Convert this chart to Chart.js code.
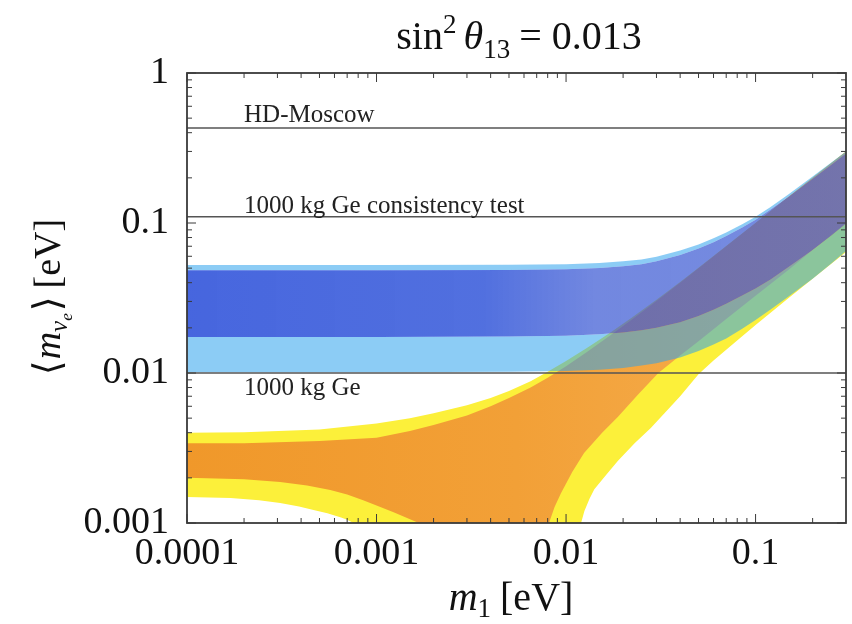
<!DOCTYPE html>
<html>
<head>
<meta charset="utf-8">
<script src="https://cdn.jsdelivr.net/npm/chart.js@4.4.0/dist/chart.umd.min.js"></script>
<style>
  html, body { margin: 0; padding: 0; background: #fff; }
  #grafico { display: block; }
</style>
</head>
<body>
<canvas id="grafico" width="852" height="624"></canvas>
<script>
// Rótulos dos eixos (eV)
const rotulosX = [0.0001, 0.001, 0.01, 0.1];
const rotulosY = [0.001, 0.01, 0.1, 1];

// Limites experimentais (linhas horizontais) e seus nomes
const limites = [0.43, 0.11, 0.01];
const nomesLimites = ['HD-Moscow', '1000 kg Ge consistency test', '1000 kg Ge'];

// Hierarquia invertida: m1 e bordas das faixas (externa = azul claro, interna = azul escuro)
const m1Inv     = [0.0001, 0.001, 0.005, 0.01, 0.015, 0.02, 0.025, 0.03, 0.04, 0.05, 0.06, 0.07, 0.085, 0.1, 0.12, 0.15, 0.2, 0.25, 0.3];
const invExtSup = [0.0525, 0.0525, 0.0526, 0.0531, 0.0541, 0.0555, 0.057, 0.0595, 0.0655, 0.072, 0.079, 0.0865, 0.098, 0.11, 0.128, 0.156, 0.204, 0.252, 0.30];
const invIntSup = [0.0485, 0.0485, 0.0486, 0.0491, 0.0501, 0.0515, 0.0531, 0.0555, 0.0613, 0.0677, 0.0745, 0.082, 0.0932, 0.105, 0.123, 0.15, 0.197, 0.244, 0.291];
const invIntInf = [0.0174, 0.0174, 0.0175, 0.0177, 0.0181, 0.0186, 0.0193, 0.0200, 0.0218, 0.024, 0.0264, 0.029, 0.0328, 0.0366, 0.042, 0.051, 0.066, 0.082, 0.099];
const invExtInf = [0.0101, 0.0101, 0.0102, 0.0103, 0.0105, 0.0108, 0.0112, 0.0116, 0.0127, 0.0140, 0.0155, 0.0170, 0.0197, 0.0226, 0.0265, 0.0325, 0.0425, 0.0535, 0.065];

// Hierarquia normal: bordas superiores (amarelo = externa, laranja = interna)
const m1NormSup  = [0.0001, 0.0002, 0.0005, 0.001, 0.0015, 0.002, 0.003, 0.004, 0.005, 0.0065, 0.008, 0.01, 0.013, 0.017, 0.022, 0.03, 0.04, 0.05, 0.07, 0.1, 0.15, 0.2, 0.3];
const normExtSup = [0.0040, 0.00403, 0.0042, 0.0046, 0.0050, 0.0054, 0.0061, 0.0068, 0.0076, 0.0088, 0.0102, 0.0120, 0.0148, 0.0185, 0.0232, 0.0308, 0.0405, 0.0503, 0.0702, 0.1, 0.15, 0.2, 0.3];
const normIntSup = [0.0034, 0.0034, 0.00352, 0.0037, 0.0041, 0.0045, 0.0052, 0.0060, 0.0068, 0.0080, 0.0093, 0.0111, 0.0139, 0.0177, 0.0225, 0.0302, 0.040, 0.050, 0.070, 0.1, 0.15, 0.2, 0.3];

// Bordas inferiores: caem abaixo de 0.001 na região de cancelamento
const m1NormIntInf = [0.0001, 0.0002, 0.00031, 0.00043, 0.00057, 0.0007, 0.00085, 0.001, 0.00123, 0.00145, 0.00167, 0.0022, 0.0073, 0.00813, 0.0087, 0.0094, 0.0108, 0.01245, 0.0155, 0.0188, 0.024, 0.0307, 0.04, 0.05, 0.07, 0.1, 0.15, 0.2, 0.3];
const normIntInf   = [0.0020, 0.00196, 0.00188, 0.00178, 0.00166, 0.00155, 0.00142, 0.00131, 0.00118, 0.00108, 0.001, 0.0005, 0.0006, 0.001, 0.00128, 0.00158, 0.0022, 0.00293, 0.0040, 0.0051, 0.0072, 0.0100, 0.0131, 0.0163, 0.0229, 0.0327, 0.049, 0.066, 0.1];
const m1NormExtInf = [0.0001, 0.00017, 0.00024, 0.00031, 0.00039, 0.000465, 0.00055, 0.00065, 0.0007, 0.000755, 0.0009, 0.011, 0.012, 0.0125, 0.0133, 0.0141, 0.0163, 0.0188, 0.023, 0.028, 0.034, 0.04, 0.05, 0.06, 0.07, 0.085, 0.1, 0.15, 0.2, 0.3];
const normExtInf   = [0.00149, 0.00147, 0.00142, 0.00136, 0.00129, 0.00122, 0.00116, 0.00109, 0.00105, 0.001, 0.0005, 0.0005, 0.001, 0.0012, 0.00145, 0.00168, 0.0021, 0.0026, 0.0034, 0.0043, 0.0056, 0.0070, 0.0098, 0.0121, 0.0143, 0.0176, 0.0209, 0.0318, 0.0425, 0.064];

const SERIF = '"Liberation Serif", "DejaVu Serif", serif';

/**
 * Monta o polígono de uma faixa: borda superior da esquerda p/ direita,
 * depois a inferior de volta.
 */
function faixa(m1Sup, sup, m1Inf, inf) {
  const pts = m1Sup.map((x, i) => ({ x, y: sup[i] }));
  for (let i = m1Inf.length - 1; i >= 0; i--) {
    pts.push({ x: m1Inf[i], y: inf[i] });
  }
  return pts;
}

// Gradiente horizontal na área do gráfico (as faixas escurecem à esquerda)
function gradiente(paradas, reserva) {
  return (c) => {
    const { ctx, chartArea } = c.chart;
    if (!chartArea) return reserva;
    const g = ctx.createLinearGradient(chartArea.left, 0, chartArea.right, 0);
    paradas.forEach(([pos, cor]) => g.addColorStop(pos, cor));
    return g;
  };
}

function datasetFaixa(pontos, cor, ordem) {
  return {
    data: pontos,
    showLine: true,
    fill: 'shape',
    backgroundColor: cor,
    borderWidth: 0,
    pointRadius: 0,
    order: ordem
  };
}

function datasetLimite(valor) {
  return {
    data: [{ x: 0.0001, y: valor }, { x: 0.3, y: valor }],
    showLine: true,
    fill: false,
    borderColor: '#555',
    borderWidth: 1.5,
    pointRadius: 0,
    order: 0
  };
}

// Desenha pedaços de texto com fontes e deslocamentos diferentes (sub/sobrescritos)
function desenharPartes(ctx, partes, x, y, centro) {
  let total = 0;
  partes.forEach(p => {
    ctx.font = p.f;
    p.w = ctx.measureText(p.t).width;
    total += p.w + (p.gap || 0);
  });
  let cx = centro ? x - total / 2 : x;
  partes.forEach(p => {
    ctx.font = p.f;
    ctx.fillText(p.t, cx, y + (p.dy || 0));
    cx += p.w + (p.gap || 0);
  });
}

// Moldura com marcas para dentro nos quatro lados
const molduraPlugin = {
  id: 'moldura',
  afterDatasetsDraw(chart) {
    const { ctx, chartArea: a, scales: { x, y } } = chart;
    ctx.save();
    ctx.strokeStyle = '#3a3a3a';
    ctx.lineWidth = 1;
    const traco = (x1, y1, x2, y2) => {
      ctx.beginPath(); ctx.moveTo(x1, y1); ctx.lineTo(x2, y2); ctx.stroke();
    };
    for (let e = -4; e <= -1; e++) {
      for (let k = 1; k <= 9; k++) {
        const v = k * Math.pow(10, e);
        if (v > 0.3) break;
        const px = x.getPixelForValue(v);
        const len = k === 1 ? 9 : 5;
        traco(px, a.bottom, px, a.bottom - len);
        traco(px, a.top, px, a.top + len);
      }
    }
    for (let e = -3; e <= 0; e++) {
      for (let k = 1; k <= 9; k++) {
        const v = k * Math.pow(10, e);
        if (v > 1) break;
        const py = y.getPixelForValue(v);
        const len = k === 1 ? 9 : 5;
        traco(a.left, py, a.left + len, py);
        traco(a.right, py, a.right - len, py);
      }
    }
    ctx.lineWidth = 1.8;
    ctx.strokeRect(a.left, a.top, a.right - a.left, a.bottom - a.top);
    ctx.restore();
  }
};

// Textos: nomes dos limites, título e rótulos dos eixos
const textosPlugin = {
  id: 'textos',
  afterDraw(chart) {
    const { ctx, scales: { x, y } } = chart;
    ctx.save();
    ctx.fillStyle = '#222';
    ctx.textBaseline = 'alphabetic';
    ctx.textAlign = 'left';

    const xTexto = x.getPixelForValue(0.0002);
    ctx.font = '25px ' + SERIF;
    ctx.fillText(nomesLimites[0], xTexto, y.getPixelForValue(limites[0]) - 6);
    ctx.fillText(nomesLimites[1], xTexto, y.getPixelForValue(limites[1]) - 4);
    ctx.fillText(nomesLimites[2], xTexto, y.getPixelForValue(limites[2]) + 22);

    ctx.fillStyle = '#111';
    // título: sin^2 θ_13 = 0.013
    desenharPartes(ctx, [
      { t: 'sin', f: '40px ' + SERIF },
      { t: '2', f: '27px ' + SERIF, dy: -16, gap: 7 },
      { t: 'θ', f: 'italic 40px ' + SERIF },
      { t: '13', f: '27px ' + SERIF, dy: 9, gap: 9 },
      { t: '= 0.013', f: '40px ' + SERIF }
    ], 519, 49, true);

    // eixo x: m_1 [eV]
    desenharPartes(ctx, [
      { t: 'm', f: 'italic 40px ' + SERIF },
      { t: '1', f: '27px ' + SERIF, dy: 7, gap: 9 },
      { t: '[eV]', f: '40px ' + SERIF }
    ], 511, 610, true);

    // eixo y: <m_νe> [eV]
    ctx.translate(60, 297);
    ctx.rotate(-Math.PI / 2);
    desenharPartes(ctx, [
      { t: '⟨', f: '38px ' + SERIF, gap: 1 },
      { t: 'm', f: 'italic 38px ' + SERIF },
      { t: 'ν', f: 'italic 25px ' + SERIF, dy: 7 },
      { t: 'e', f: 'italic 17px ' + SERIF, dy: 12, gap: 2 },
      { t: '⟩', f: '38px ' + SERIF, gap: 8 },
      { t: '[eV]', f: '38px ' + SERIF }
    ], 0, 0, true);
    ctx.restore();
  }
};

const chart = new Chart(document.getElementById('grafico'), {
  type: 'scatter',
  data: {
    datasets: [
      datasetLimite(limites[0]),
      datasetLimite(limites[1]),
      datasetLimite(limites[2]),
      // azul escuro (hierarquia invertida, faixa interna)
      datasetFaixa(faixa(m1Inv, invIntSup, m1Inv, invIntInf), gradiente([
        [0, 'rgba(30,68,215,0.82)'], [0.45, 'rgba(38,76,215,0.8)'],
        [0.62, 'rgba(60,90,212,0.72)'], [1, 'rgba(60,90,210,0.7)']
      ], 'rgba(50,85,212,0.75)'), 1),
      // azul claro: tiras acima e abaixo da faixa interna
      datasetFaixa(faixa(m1Inv, invExtSup, m1Inv, invIntSup), 'rgba(45,163,236,0.55)', 2),
      datasetFaixa(faixa(m1Inv, invIntInf, m1Inv, invExtInf), 'rgba(45,163,236,0.55)', 2),
      // laranja (hierarquia normal, faixa interna)
      datasetFaixa(faixa(m1NormSup, normIntSup, m1NormIntInf, normIntInf), gradiente([
        [0, 'rgb(240,152,42)'], [0.5, 'rgb(242,160,55)'], [1, 'rgb(246,176,82)']
      ], 'rgb(243,162,58)'), 3),
      // amarelo (hierarquia normal, faixa externa)
      datasetFaixa(faixa(m1NormSup, normExtSup, m1NormExtInf, normExtInf), 'rgb(252,240,58)', 4)
    ]
  },
  options: {
    responsive: false,
    animation: false,
    devicePixelRatio: 1,
    layout: { padding: { top: 73, right: 6, left: 0, bottom: 0 } },
    plugins: {
      legend: { display: false },
      tooltip: { enabled: false },
      title: { display: false }
    },
    scales: {
      x: {
        type: 'logarithmic',
        min: 0.0001,
        max: 0.3,
        grid: { display: false, drawTicks: false },
        border: { display: false },
        afterBuildTicks: (s) => { s.ticks = rotulosX.map(v => ({ value: v })); },
        afterFit: (s) => { s.height = 101; },
        ticks: {
          color: '#111',
          padding: 8,
          maxRotation: 0,
          font: { family: SERIF, size: 38 },
          callback: (v) => String(v)
        }
      },
      y: {
        type: 'logarithmic',
        min: 0.001,
        max: 1,
        grid: { display: false, drawTicks: false },
        border: { display: false },
        afterBuildTicks: (s) => { s.ticks = rotulosY.map(v => ({ value: v })); },
        afterFit: (s) => { s.width = 187; },
        ticks: {
          color: '#111',
          padding: 18,
          font: { family: SERIF, size: 38 },
          callback: (v) => String(v)
        }
      }
    }
  },
  plugins: [molduraPlugin, textosPlugin]
});
</script>
</body>
</html>
